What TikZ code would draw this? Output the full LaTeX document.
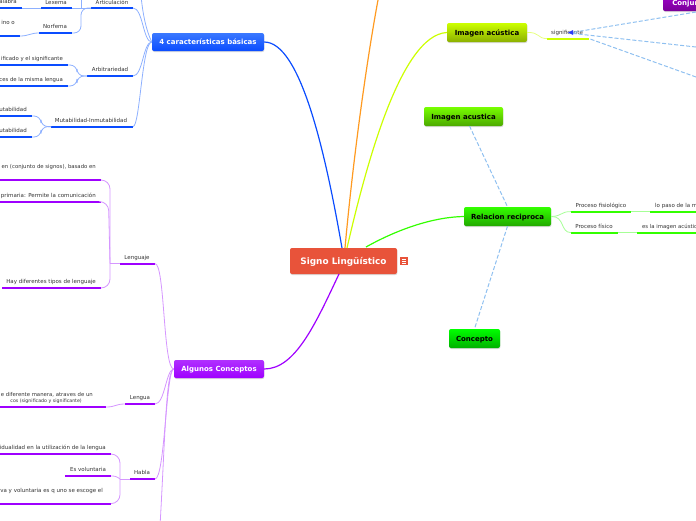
\documentclass[tikz,border=0pt]{standalone}
\usepackage{fontspec}
\setmainfont{DejaVu Sans}
\usetikzlibrary{shadows,arrows.meta}
\definecolor{bl}{HTML}{0A4CFF}\definecolor{blc}{HTML}{8DB0FF}
\definecolor{bltop}{HTML}{3A78FF}
\definecolor{pu}{HTML}{9F00FF}\definecolor{puc}{HTML}{D596FF}
\definecolor{putop}{HTML}{B030FF}
\definecolor{gr}{HTML}{33FF00}\definecolor{grc}{HTML}{A6FF96}
\definecolor{ye}{HTML}{CCFF00}\definecolor{yec}{HTML}{E6FF80}
\definecolor{yeb}{HTML}{8CB000}
\definecolor{lim}{HTML}{77FF00}\definecolor{limb}{HTML}{4CA800}
\definecolor{grb}{HTML}{22A800}
\definecolor{gg}{HTML}{00FF00}\definecolor{ggb}{HTML}{00B000}
\definecolor{cjt}{HTML}{A800D8}\definecolor{cjb}{HTML}{7A0098}
\definecolor{or}{HTML}{FF9A20}\definecolor{dsh}{HTML}{8FC0F0}
\definecolor{txt}{HTML}{333333}\definecolor{rd}{HTML}{E8533A}
\tikzset{
 x=1pt,y=-1pt,
 mainbox/.style={rounded corners=2pt,inner sep=0pt,text height=5pt,text depth=0pt,font=\bfseries\fontsize{7}{8}\selectfont,drop shadow={opacity=.3,shadow xshift=0.4pt,shadow yshift=-1pt}},
 lbl/.style={inner sep=0pt,yshift=-.6pt,text=txt,font=\fontsize{5.5}{6.5}\selectfont},
 lbs/.style={lbl,font=\fontsize{5.35}{6.5}\selectfont},
 lbt/.style={lbl,font=\fontsize{4.7}{6.5}\selectfont},
 barnode/.style={inner sep=0pt,outer sep=0pt,minimum height=1.8pt,anchor=west},
 conn/.style={line width=.8pt},
 dashc/.style={dsh,line width=1pt,dash pattern=on 4pt off 2pt},
}
\newcommand{\leaf}[5]{\pgfmathsetmacro{\leafw}{#3-(#2)}\node[barnode,fill=#5,minimum width=\leafw pt] (#1) at (#2,#4) {};\coordinate (#1-l) at (#1.west);\coordinate (#1-r) at (#1.east);}
\begin{document}
\begin{tikzpicture}
\useasboundingbox (0,0) rectangle (696,520);
\clip (0,0) rectangle (696,520);
% main nodes
\node[mainbox,fill=rd,text=white,minimum width=107pt,minimum height=26pt,text height=6.5pt,font=\bfseries\fontsize{8.9}{10}\selectfont] (root) at (343.5,261) {Signo Lingüístico};
\node[mainbox,top color=bltop,bottom color=bl,text=white,minimum width=112pt,minimum height=18pt] (car) at (208,42) {4 características básicas};
\node[mainbox,top color=putop,bottom color=pu,text=white,minimum width=90pt,minimum height=18pt] (alg) at (219,369) {Algunos Conceptos};
\node[mainbox,top color=ye,bottom color=yeb,text=black,minimum width=80pt,minimum height=19pt] (ima) at (487,32.5) {Imagen acústica};
\node[mainbox,top color=lim,bottom color=limb,text=black,minimum width=79pt,minimum height=19pt] (imb) at (463.5,116.5) {Imagen acustica};
\node[mainbox,top color=gr,bottom color=grb,text=black,minimum width=87pt,minimum height=19pt] (rel) at (507.5,216.5) {Relacion reciproca};
\node[mainbox,top color=gg,bottom color=ggb,text=black,minimum width=51pt,minimum height=19pt] (con) at (474.5,338.5) {Concepto};
\node[mainbox,top color=cjt,bottom color=cjb,text=white,minimum width=54pt,minimum height=20pt] (cjto) at (690,1) {\raisebox{-2pt}{Conjunto}};
% note icon
\node[fill=rd,minimum size=8pt,inner sep=0pt] (ico) at (404,261) {};
\draw[white,line width=.6pt] (401.8,259) -- (406.2,259) (401.8,261) -- (406.2,261) (401.8,263) -- (406.2,263);
% free ends
\coordinate (topor) at (378,0);
\coordinate (topbl) at (141,-4);
\coordinate (topar) at (81,-8);
\coordinate (botpu) at (160,526);
\coordinate (rA) at (342,248);\coordinate (rB) at (345,248);\coordinate (rC) at (347,248);\coordinate (rD) at (366,247);\coordinate (rE) at (339,274);
% root branches
\draw[bl,line width=1.2pt] (rA) .. controls (325,150) and (300,42) .. (car.east);
\draw[or,line width=1.2pt] (rB) .. controls (352,170) and (365,70) .. (topor);
\draw[ye,line width=1.2pt] (rC) .. controls (365,170) and (400,35) .. (ima.west);
\draw[gr,line width=1.2pt] (rD) .. controls (400,228) and (435,217) .. (rel.west);
\draw[pu,line width=1.2pt] (rE) .. controls (315,325) and (295,369) .. (alg.east);
% blue leaves
\leaf{art}{91}{133}{8}{bl}
\leaf{lex}{41}{72}{8}{bl}
\leaf{pal}{-5}{22}{8}{bl}
\leaf{nor}{39}{72}{33}{bl}
\leaf{ter}{-5}{20}{36}{bl}
\leaf{arb}{87}{133}{76}{bl}
\leaf{ar1}{-5}{68}{65}{bl}
\leaf{ar2}{-5}{68}{86}{bl}
\leaf{mut}{51}{133}{126.6}{bl}
\leaf{mu1}{-5}{32}{116}{bl}
\leaf{mu2}{-5}{32}{137}{bl}
\begin{scope}[blc,conn]
\draw (car.west) .. controls (143,42) and (143,8) .. (art-r);
\draw (car.west) .. controls (143,42) and (143,76) .. (arb-r);
\draw (car.west) .. controls (142,42) and (140,126.6) .. (mut-r);
\draw (car.west) .. controls (146,30) and (143,15) .. (topbl);
\draw (art-l) -- (lex-r);
\draw (lex-l) -- (pal-r);
\draw[rounded corners=7pt] (art-l) -- (81,8) -- (81,33) -- (nor-r);
\draw (81,8) -- (topar);
\draw (nor-l) .. controls (30,33) and (29,36) .. (ter-r);
\draw[rounded corners=7pt] (arb-l) -- (77,76) -- (77,65) -- (ar1-r);
\draw[rounded corners=7pt] (arb-l) -- (77,76) -- (77,86) -- (ar2-r);
\draw[rounded corners=7pt] (mut-l) -- (41,126.6) -- (41,116) -- (mu1-r);
\draw[rounded corners=7pt] (mut-l) -- (41,126.6) -- (41,137) -- (mu2-r);
\end{scope}
\node[lbl] (t1) at (112,1.5) {Articulación};
\node[lbl] (t2) at (56,1.5) {Lexema};
\node[lbl,anchor=east] (t3) at (17,1) {alabra};
\node[lbl] (t4) at (55,26) {Norfema};
\node[lbl,anchor=east] (t5) at (15,22) {ino o};
\node[lbl] (t6) at (110,69) {Arbitrariedad};
\node[lbs,anchor=east] (t7) at (63,58) {ificado y el significante};
\node[lbs,anchor=east] (t8) at (63,79) {ces de la misma lengua};
\node[lbl] (t9) at (91,120) {Mutabilidad-Inmutabilidad};
\node[lbl,anchor=east] (t10) at (27,109) {utabilidad};
\node[lbl,anchor=east] (t11) at (27,130) {utabilidad};
% purple leaves
\leaf{len}{120}{155}{263.6}{pu}
\leaf{l1}{-5}{101}{180}{pu}
\leaf{l2}{-5}{101}{201.6}{pu}
\leaf{l3}{2}{101}{288}{pu}
\leaf{lg}{125}{155}{404}{pu}
\leaf{g1}{-5}{106}{407}{pu}
\leaf{hab}{130}{155}{479}{pu}
\leaf{h1}{-5}{111}{454}{pu}
\leaf{h2}{65}{111}{476}{pu}
\leaf{h3}{-5}{111}{503.6}{pu}
\begin{scope}[puc,conn]
\draw (alg.west) .. controls (163,369) and (165,263.6) .. (len-r);
\draw (alg.west) .. controls (166,369) and (165,404) .. (lg-r);
\draw (alg.west) .. controls (166,369) and (165,479) .. (hab-r);
\draw (alg.west) .. controls (166,369) and (165,440) .. (botpu);
\draw (len-l) -- (110,263.6);
\draw[rounded corners=9pt] (110,263.6) -- (110,180) -- (l1-r);
\draw[rounded corners=9pt] (110,263.6) -- (108.5,201.6) -- (l2-r);
\draw[rounded corners=9pt] (110,263.6) -- (110,288) -- (l3-r);
\draw (lg-l) .. controls (115,404) and (116,407) .. (g1-r);
\draw (hab-l) -- (120,479);
\draw[rounded corners=9pt] (120,479) -- (120,454) -- (h1-r);
\draw[rounded corners=3pt] (120,479) -- (116,476) -- (h2-r);
\draw[rounded corners=9pt] (120,479) -- (120,503.6) -- (h3-r);
\end{scope}
\node[lbl] (p1) at (137,257) {Lenguaje};
\node[lbs,anchor=east] (p2) at (96,166.5) {en (conjunto de signos), basado en};
\node[lbl,anchor=east] (p3) at (96,195) {primaria: Permite la comunicación};
\node[lbl,anchor=east] (p4) at (96,281) {Hay diferentes tipos de lenguaje};
\node[lbl] (p5) at (140,397) {Lengua};
\node[lbs,anchor=east] (p6) at (93,394) {e diferente manera, atraves de un};
\node[lbt,anchor=east] (p7) at (82,400.5) {cos (significado y significante)};
\node[lbl] (p8) at (142,472) {Habla};
\node[lbl,anchor=east] (p9) at (106,447) {idualidad en la utilización de la lengua};
\node[lbl] (p10) at (88,469) {Es voluntaria};
\node[lbl,anchor=east] (p11) at (103,490) {va y voluntaria es q uno se escoge el};
% right side
\leaf{sig}{547}{589}{38.6}{ye}
\draw[yec,conn] (ima.east) .. controls (540,32) and (537,38.6) .. (sig-l);
\node[lbl] (s1) at (567,32) {significante};
\coordinate (a1) at (696,12);\coordinate (a2) at (696,47);\coordinate (a3) at (696,77);\coordinate (aa) at (569,33);
\draw[dashc] (a1) -- (aa);
\draw[dashc] (a2) -- (aa);
\draw[dashc] (a3) -- (sig-r);
\fill[blue!70!dsh] (568,32.5) -- (573,30) -- (573,35) -- cycle;
\coordinate (ib) at (469.5,126);
\draw[dashc] (ib) -- (rel.north);
\draw[dashc] (rel.south) -- (con.north);
\leaf{pf}{571}{631}{211.6}{gr}
\leaf{pc}{571}{618}{232.6}{gr}
\leaf{lo}{650}{700}{211.6}{gr}
\leaf{es}{637}{700}{232.6}{gr}
\begin{scope}[grc,conn]
\draw (rel.east) .. controls (563,216) and (560,211.6) .. (pf-l);
\draw (rel.east) .. controls (565,216) and (560,232.6) .. (pc-l);
\draw (pf-r) -- (lo-l);
\draw (pc-r) -- (es-l);
\end{scope}
\node[lbl] (g1t) at (601,205) {Proceso fisiológico};
\node[lbl] (g2t) at (594,226) {Proceso físico};
\node[lbl,anchor=west] (g3t) at (655,205) {lo paso de la m};
\node[lbs,anchor=west] (g4t) at (642,226) {es la imagen acústic};
\end{tikzpicture}
\end{document}
